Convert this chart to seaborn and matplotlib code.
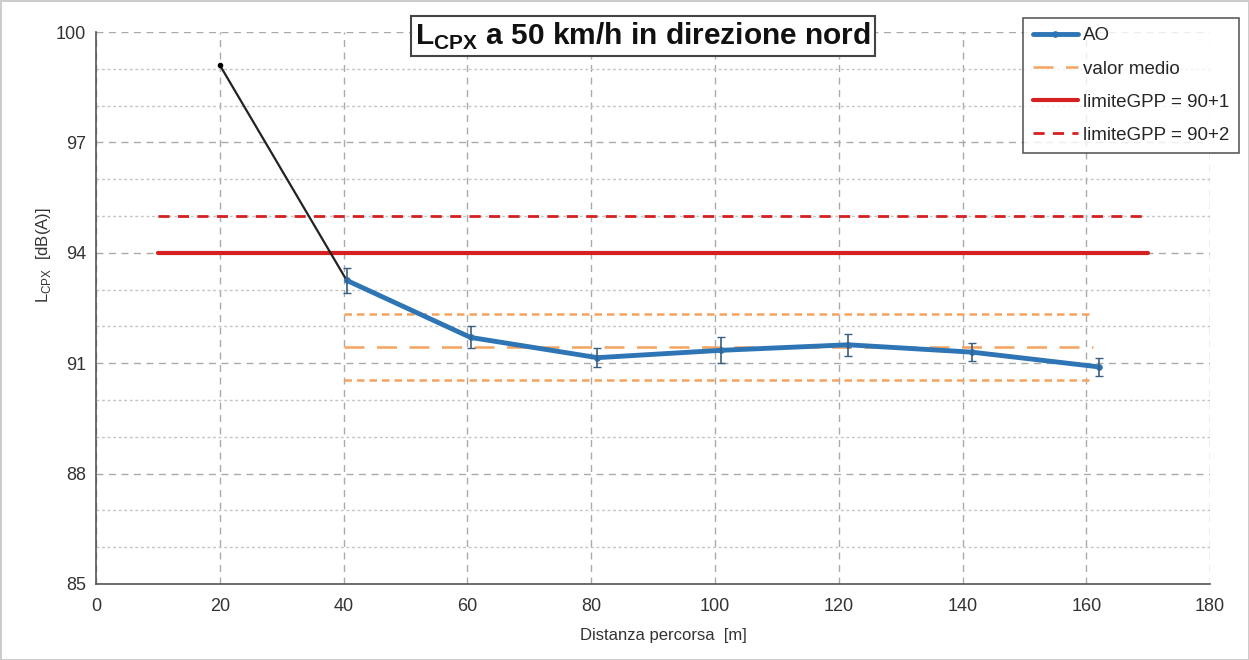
import numpy as np
import pandas as pd
import seaborn as sns
import matplotlib.pyplot as plt
from matplotlib.ticker import MultipleLocator, FixedLocator

# data
dist = [40.5, 60.5, 81, 101, 121.5, 141.5, 162]
lcpx = [93.25, 91.7, 91.15, 91.35, 91.5, 91.3, 90.9]
err = [0.35, 0.3, 0.25, 0.35, 0.3, 0.25, 0.25]
first_x = [20, 40.5]
first_y = [99.1, 93.25]
mean_val = 91.45
band_hi = 92.35
band_lo = 90.55
mean_x = [40, 161]
lim1 = 94
lim2 = 95
lim_x = [10, 170]
yticks = [85, 88, 91, 94, 97, 100]

sns.set_style("white")
plt.rcParams['font.family'] = ['Liberation Sans', 'DejaVu Sans']

fig = plt.figure(figsize=(12.49, 6.6), dpi=100)
ax = fig.add_axes([0.0769, 0.1152, 0.892, 0.8363])

blue = '#2e75b6'
orange = '#f4a460'
red = '#d42020'

df = pd.DataFrame({'x': dist, 'y': lcpx})
dfmean = pd.DataFrame({'x': mean_x, 'y': [mean_val] * 2})

ax.plot(first_x, first_y, color='#222222', lw=1.6, zorder=4)
ax.plot(first_x[:1], first_y[:1], 'o', color='black', ms=3, zorder=4)

ax.plot(mean_x, [band_hi] * 2, color=orange, lw=1.8, ls=(0, (3, 2)), zorder=2)
ax.plot(mean_x, [band_lo] * 2, color=orange, lw=1.8, ls=(0, (3, 2)), zorder=2)

sns.lineplot(data=dfmean, x='x', y='y', ax=ax, color=orange, lw=1.8,
             ls=(0, (8, 5)), label='valor medio', zorder=3)
sns.lineplot(x=lim_x, y=[lim1] * 2, ax=ax, color=red, lw=3,
             label='limiteGPP = 90+1', zorder=3)
sns.lineplot(x=lim_x, y=[lim2] * 2, ax=ax, color=red, lw=2,
             ls=(0, (4, 3)), label='limiteGPP = 90+2', zorder=3)
sns.lineplot(data=df, x='x', y='y', ax=ax, color=blue, lw=3.5, marker='o',
             ms=4, mec=blue, mfc=blue, label='AO', zorder=5)
ax.errorbar(dist, lcpx, yerr=err, fmt='none', ecolor='#3a5f80', elinewidth=1.2,
            capsize=3, zorder=6)

ax.set_xlim(0, 180)
ax.set_ylim(85, 100)
ax.xaxis.set_major_locator(MultipleLocator(20))
ax.yaxis.set_major_locator(FixedLocator(yticks))
ax.yaxis.set_minor_locator(MultipleLocator(1))
ax.grid(which='major', axis='both', color='#aaaaaa', ls=(0, (5, 4)), lw=1)
ax.grid(which='minor', axis='y', color='#c4c4c4', ls=(0, (2, 2)), lw=1)
ax.set_axisbelow(True)

for s in ['top', 'right']:
    ax.spines[s].set_visible(False)
for s in ['left', 'bottom']:
    ax.spines[s].set_color('#555555')
    ax.spines[s].set_linewidth(1.2)

ax.tick_params(which='both', labelsize=13, colors='#333333', length=0, pad=7)
ax.tick_params(axis='x', pad=10)
ax.set_xlabel('Distanza percorsa  [m]', fontsize=12, color='#333333')
ax.set_ylabel(r'L$_{\mathregular{CPX}}$  [dB(A)]', fontsize=12, color='#333333')
ax.xaxis.set_label_coords(0.509, -0.08)
ax.yaxis.set_label_coords(-0.039, 0.596)

fig.text(643 / 1249, 1 - 36 / 660, r'L$_{\mathregular{CPX}}$ a 50 km/h in direzione nord',
         ha='center', va='center', fontsize=21.5, fontweight='bold', color='#111111',
         zorder=10,
         bbox=dict(boxstyle='square,pad=0.15', fc='white', ec='#444444', lw=1.5))

h, l = ax.get_legend_handles_labels()
order = [l.index('AO'), l.index('valor medio'), l.index('limiteGPP = 90+1'),
         l.index('limiteGPP = 90+2')]
leg = ax.legend([h[i] for i in order], [l[i] for i in order], loc='upper right',
                bbox_to_anchor=(1239 / 1249, 1 - 18 / 660),
                bbox_transform=fig.transFigure, fontsize=13.5, frameon=True,
                fancybox=False, edgecolor='#333333', handlelength=2.4,
                handletextpad=0.3, labelspacing=0.85, borderaxespad=0,
                borderpad=0.5)
leg.get_frame().set_linewidth(1.2)
leg.set_zorder(10)

fig.patch.set_edgecolor('#cccccc')
fig.patch.set_linewidth(2)
fig.savefig('out.png', dpi=100, edgecolor=fig.get_edgecolor())
